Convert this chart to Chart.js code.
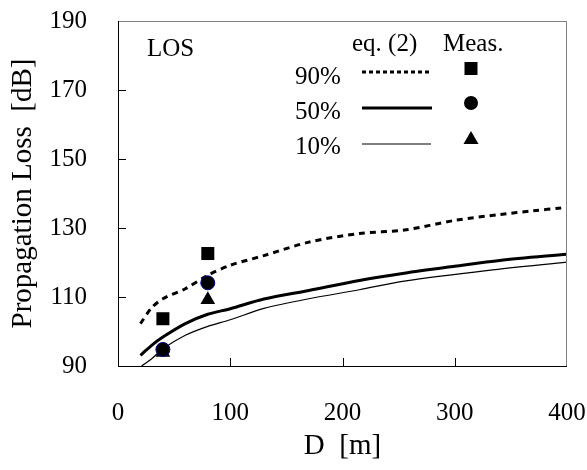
<!DOCTYPE html>
<html>
<head>
<meta charset="utf-8">
<script src="https://cdn.jsdelivr.net/npm/chart.js@4/dist/chart.umd.min.js"></script>
<style>
    html, body { margin: 0; padding: 0; background: #fff; }
</style>
</head>
<body>
<canvas id="chart" width="587" height="470"></canvas>
<script>
// eq. (2) curves
const dist90 = [20, 30, 40, 60, 80, 100, 130, 170, 215, 255, 300, 340, 370, 395];
const loss90 = [102.3, 106.9, 109.5, 112.4, 116.3, 119.2, 122.0, 125.9, 128.4, 129.4, 132.2, 133.9, 135.0, 135.8];

const dist50 = [20, 30, 40, 60, 80, 100, 130, 170, 215, 255, 300, 340, 400];
const loss50 = [93.1, 96.0, 98.4, 102.3, 105.0, 106.6, 109.4, 111.9, 114.8, 116.9, 118.9, 120.6, 122.4];

const dist10 = [21, 30, 40, 60, 80, 100, 130, 170, 215, 255, 330, 400];
const loss10 = [90.0, 92.1, 95.0, 98.9, 101.5, 103.4, 106.7, 109.5, 112.1, 114.6, 117.7, 120.1];

// measurements
const measDist = [40, 80];
const meas90 = [103.7, 122.6];
const meas50 = [94.8, 114.1];
const meas10 = [93.9, 109.2];

const xTicks = [0, 100, 200, 300, 400];
const yTicks = [90, 110, 130, 150, 170, 190];
const legendRows = ['90%', '50%', '10%'];

const serif = '"Liberation Serif", "Times New Roman", serif';
const toPoints = (xs, ys) => xs.map((x, i) => ({ x, y: ys[i] }));

const overlay = {
    id: 'overlay',
    afterDraw(chart) {
        const { ctx } = chart;
        const sx = chart.scales.x;
        const sy = chart.scales.y;
        const x0 = Math.round(sx.left);
        const x1 = Math.round(sx.right);
        const y0 = Math.round(sy.top);
        const y1 = Math.round(sy.bottom);
        ctx.save();

        // frame as filled strips: black left/bottom, grey top/right
        ctx.fillStyle = '#808080';
        ctx.fillRect(x0, y0, x1 - x0, 1);
        ctx.fillRect(x1 - 1, y0, 1, y1 - y0 + 1);
        ctx.fillStyle = '#000';
        ctx.fillRect(x0, y0, 1, y1 - y0 + 1);
        ctx.fillRect(x0, y1, x1 - x0, 1);

        // inward ticks
        yTicks.slice(1, -1).forEach((v) => {
            const py = Math.round(sy.getPixelForValue(v));
            ctx.fillRect(x0, py, 8, 1);
        });
        xTicks.slice(1, -1).forEach((v) => {
            const px = Math.round(sx.getPixelForValue(v));
            ctx.fillRect(px, y1 - 8, 1, 8);
        });

        // legend block
        ctx.strokeStyle = '#000';
        ctx.font = `25px ${serif}`;
        ctx.textBaseline = 'alphabetic';
        ctx.textAlign = 'left';
        ctx.fillText('LOS', 147, 56);
        ctx.fillText('eq. (2)', 352, 51);
        ctx.fillText('Meas.', 443, 51);
        const rowY = [84, 119, 154];
        legendRows.forEach((t, i) => ctx.fillText(t, 295, rowY[i]));

        const lineY = [72, 108, 144];
        ctx.lineCap = 'butt';
        ctx.lineWidth = 3;
        ctx.setLineDash([4, 3]);
        ctx.beginPath();
        ctx.moveTo(362, lineY[0]);
        ctx.lineTo(431, lineY[0]);
        ctx.stroke();
        ctx.setLineDash([]);
        ctx.beginPath();
        ctx.moveTo(362, lineY[1]);
        ctx.lineTo(432, lineY[1]);
        ctx.stroke();
        ctx.lineWidth = 1.2;
        ctx.beginPath();
        ctx.moveTo(362, lineY[2]);
        ctx.lineTo(431, lineY[2]);
        ctx.stroke();

        const mx = 471;
        ctx.fillRect(mx - 6.5, 62, 13, 13);
        ctx.beginPath();
        ctx.arc(mx, 103, 7, 0, Math.PI * 2);
        ctx.fill();
        ctx.beginPath();
        ctx.moveTo(mx, 131);
        ctx.lineTo(mx + 7.5, 144);
        ctx.lineTo(mx - 7.5, 144);
        ctx.closePath();
        ctx.fill();
        ctx.restore();
    },
};

const tickFont = { family: serif, size: 25 };
const titleFont = { family: serif, size: 29 };

new Chart(document.getElementById('chart'), {
    type: 'scatter',
    data: {
        datasets: [
            { label: 'Meas. 50%', data: toPoints(measDist, meas50), pointStyle: 'circle', pointRadius: 7, backgroundColor: '#000', borderColor: '#000080', borderWidth: 1 },
            { label: 'Meas. 10%', data: toPoints(measDist, meas10), pointStyle: 'triangle', pointRadius: 8.5, backgroundColor: '#000', borderWidth: 0 },
            { label: 'Meas. 90%', data: toPoints(measDist, meas90), pointStyle: 'rect', pointRadius: 9.2, backgroundColor: '#000', borderWidth: 0 },
            { label: 'eq. (2) 90%', data: toPoints(dist90, loss90), showLine: true, pointRadius: 0, borderColor: '#000', borderWidth: 3, borderDash: [6, 5], tension: 0.3 },
            { label: 'eq. (2) 50%', data: toPoints(dist50, loss50), showLine: true, pointRadius: 0, borderColor: '#000', borderWidth: 3, tension: 0.3 },
            { label: 'eq. (2) 10%', data: toPoints(dist10, loss10), showLine: true, pointRadius: 0, borderColor: '#000', borderWidth: 1.2, tension: 0.3 },
        ],
    },
    options: {
        responsive: false,
        animation: false,
        devicePixelRatio: 1,
        layout: { padding: { left: 0, right: 20, top: 21, bottom: 0 } },
        plugins: { legend: { display: false }, tooltip: { enabled: false } },
        scales: {
            x: {
                type: 'linear', min: 0, max: 400,
                afterFit: (scale) => { scale.height = 104; scale.paddingLeft = 0; scale.paddingRight = 0; },
                afterBuildTicks: (scale) => { scale.ticks = xTicks.map((value) => ({ value })); },
                grid: { display: false, drawTicks: false },
                border: { display: false },
                ticks: { color: '#000', font: tickFont, padding: 32, maxRotation: 0 },
                title: { display: true, text: 'D  [m]', color: '#000', font: titleFont, padding: { top: 0, bottom: 6 } },
            },
            y: {
                type: 'linear', min: 90, max: 190,
                afterFit: (scale) => { scale.width = 118; scale.paddingTop = 0; scale.paddingBottom = 0; },
                afterBuildTicks: (scale) => { scale.ticks = yTicks.map((value) => ({ value })); },
                grid: { display: false, drawTicks: false },
                border: { display: false },
                ticks: { color: '#000', font: tickFont, padding: 31 },
                title: { display: true, text: 'Propagation Loss  [dB]', color: '#000', font: titleFont, padding: { top: 6, bottom: 0 } },
            },
        },
    },
    plugins: [overlay],
});
</script>
</body>
</html>
